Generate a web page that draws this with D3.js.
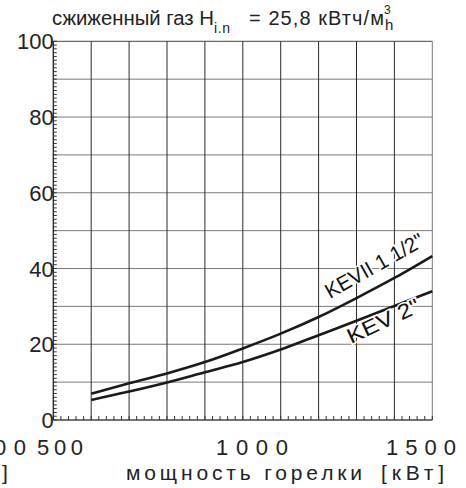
<!DOCTYPE html>
<html><head><meta charset="utf-8">
<script src="https://cdn.jsdelivr.net/npm/d3@7/dist/d3.min.js"></script>
<style>
html,body{margin:0;padding:0;background:#fff;}
svg{display:block;font-family:"Liberation Sans",Arial,sans-serif;}
</style></head>
<body>
<script>
// ---- data ----
const power = [600, 700, 800, 900, 1000, 1100, 1200, 1300, 1400, 1500];
const kevII = [6.9, 9.7, 12.3, 15.3, 18.9, 22.8, 27.2, 32.2, 37.5, 43.3];
const kev2  = [5.3, 7.5, 9.9, 12.6, 15.3, 18.6, 22.4, 26.2, 30.1, 34.0];
const seriesNames = ['KEVII 1 1/2"', 'KEV 2"'];
const yTickLabels = [0, 20, 40, 60, 80, 100];
const xTickLabels = [500, 1000, 1500];
const xGrid = [500,600,700,800,900,1000,1100,1200,1300,1400,1500];
const yGrid = [0,10,20,30,40,50,60,70,80,90,100];

const W = 466, H = 488;
const svg = d3.select('body').append('svg').attr('width', W).attr('height', H);

const x = d3.scaleLinear().domain([500, 1500]).range([53.3, 432.3]);
const y = d3.scaleLinear().domain([0, 100]).range([420, 41.3]);

// grid
svg.append('g').selectAll('line').data(yGrid.slice(1)).join('line')
  .attr('x1', x(500)).attr('x2', x(1500))
  .attr('y1', d => y(d)).attr('y2', d => y(d))
  .attr('stroke', d => d === 100 ? '#444' : '#7a7a7a').attr('stroke-width', 1);
svg.append('g').selectAll('line').data(xGrid.slice(1)).join('line')
  .attr('x1', d => x(d)).attr('x2', d => x(d))
  .attr('y1', y(0)).attr('y2', y(100))
  .attr('stroke', d => d === 1500 ? '#7a7a7a' : '#2a2a2a').attr('stroke-width', 1);

// minor ticks
const yMinor = d3.range(0, 101, 1);
svg.append('g').selectAll('line').data(yMinor).join('line')
  .attr('x1', x(500)).attr('x2', d => x(500) + 3.5)
  .attr('y1', d => y(d)).attr('y2', d => y(d))
  .attr('stroke', '#333').attr('stroke-width', 1);
const xMinor = d3.range(500, 1501, 20);
svg.append('g').selectAll('line').data(xMinor).join('line')
  .attr('x1', d => x(d)).attr('x2', d => x(d))
  .attr('y1', y(0)).attr('y2', y(0) - 4)
  .attr('stroke', '#333').attr('stroke-width', 1);

// axes lines
svg.append('line').attr('x1', x(500)).attr('x2', x(500)).attr('y1', y(0)).attr('y2', y(100))
  .attr('stroke', '#222').attr('stroke-width', 1.3);
svg.append('line').attr('x1', x(500)).attr('x2', x(1500)).attr('y1', y(0)).attr('y2', y(0))
  .attr('stroke', '#444').attr('stroke-width', 1.3);

// curves
const line = d3.line().x(d => x(d[0])).y(d => y(d[1])).curve(d3.curveMonotoneX);
[kevII, kev2].forEach(vals => {
  svg.append('path').datum(power.map((p, i) => [p, vals[i]]))
    .attr('d', line).attr('fill', 'none').attr('stroke', '#1a1a1a').attr('stroke-width', 2.6);
});

// y labels
svg.append('g').selectAll('text').data(yTickLabels).join('text')
  .attr('x', x(500) + 0.5).attr('y', d => y(d) + 8)
  .attr('text-anchor', 'end').attr('font-size', 22).attr('fill', '#222')
  .text(d => d);

// x labels
const xPos = {500: [37, 46], 1000: [216, 72], 1500: [386, 70]};
const xl = svg.append('g').attr('font-size', 22).attr('fill', '#222');
xl.append('text').attr('x', -6).attr('y', 455)
  .attr('textLength', 32).attr('lengthAdjust', 'spacing').text('00');
xl.selectAll('text.xt').data(xTickLabels).join('text').attr('class', 'xt')
  .attr('x', d => xPos[d][0]).attr('y', 455)
  .attr('textLength', d => xPos[d][1]).attr('lengthAdjust', 'spacing')
  .text(d => d);

// x axis title
const at = svg.append('g').attr('font-size', 21).attr('fill', '#222');
at.append('text').attr('x', 126).attr('y', 480)
  .attr('textLength', 236).attr('lengthAdjust', 'spacing').text('мощность горелки');
at.append('text').attr('x', 381).attr('y', 480)
  .attr('textLength', 63).attr('lengthAdjust', 'spacing').text('[кВт]');
at.append('text').attr('x', 2).attr('y', 480).text(']');

// title
const tg = svg.append('g').attr('fill', '#222');
tg.append('text').attr('x', 52).attr('y', 25).attr('font-size', 20)
  .attr('textLength', 162).attr('lengthAdjust', 'spacingAndGlyphs').text('сжиженный газ H');
tg.append('text').attr('x', 214).attr('y', 33).attr('font-size', 14)
  .attr('textLength', 16).attr('lengthAdjust', 'spacing').text('i.n');
tg.append('text').attr('x', 249).attr('y', 25).attr('font-size', 20)
  .attr('textLength', 135).attr('lengthAdjust', 'spacing').text('= 25,8 кВтч/м');
tg.append('text').attr('x', 384).attr('y', 14).attr('font-size', 12).text('3');
tg.append('text').attr('x', 385).attr('y', 30).attr('font-size', 15).text('h');

// series labels
const lab = svg.append('g').attr('font-size', 21).attr('fill', '#111')
  .attr('stroke', '#fff').attr('stroke-width', 3).style('paint-order', 'stroke');
lab.append('text').attr('transform', `translate(330,299) rotate(-29.5)`)
  .attr('textLength', 110).attr('lengthAdjust', 'spacingAndGlyphs').text(seriesNames[0]);
lab.append('text').attr('transform', `translate(351,344) rotate(-25)`)
  .attr('textLength', 78).attr('lengthAdjust', 'spacingAndGlyphs').text(seriesNames[1]);
</script>
</body></html>
